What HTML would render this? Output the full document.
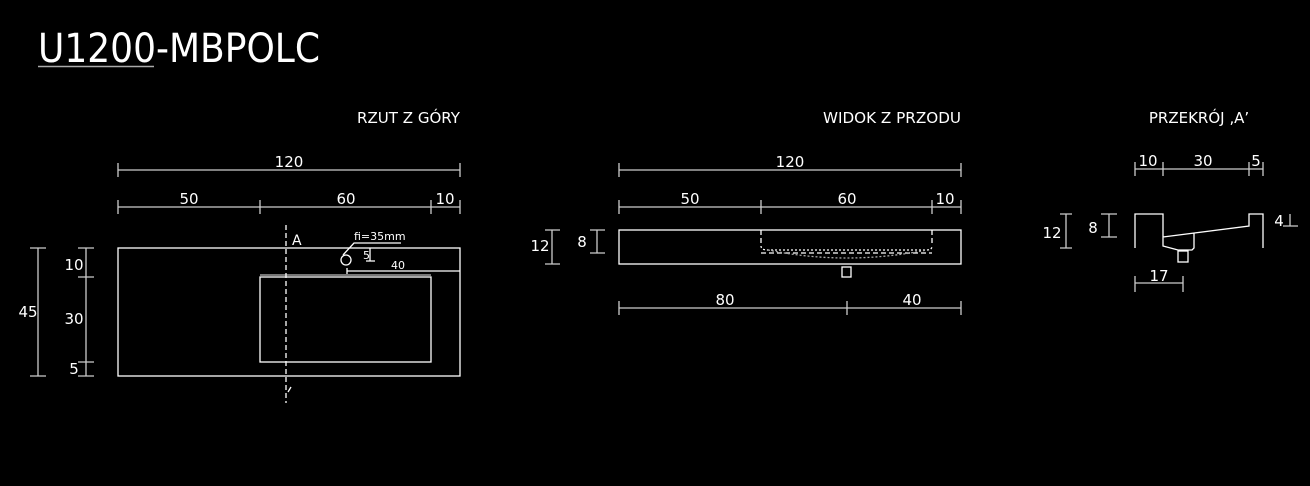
<!DOCTYPE html>
<html><head><meta charset="utf-8"><style>
html,body{margin:0;padding:0;background:#000;width:1310px;height:486px;overflow:hidden}
svg{display:block}
text{font-family:"DejaVu Sans","Liberation Sans",sans-serif;fill:#fff}
</style></head><body>
<svg width="1310" height="486" viewBox="0 0 1310 486" xmlns="http://www.w3.org/2000/svg">
<text x="38" y="62" font-size="40" textLength="282" lengthAdjust="spacingAndGlyphs">U1200-MBPOLC</text>
<line x1="38" y1="66.5" x2="154" y2="66.5" stroke="#aaa" stroke-width="1.5"/>
<g font-size="15">
<text x="460" y="123" text-anchor="end" textLength="103" lengthAdjust="spacingAndGlyphs">RZUT Z GÓRY</text>
<text x="961" y="123" text-anchor="end" textLength="138" lengthAdjust="spacingAndGlyphs">WIDOK Z PRZODU</text>
<text x="1199" y="123" text-anchor="middle">PRZEKRÓJ ‚A’</text>
</g>
<g stroke="#ccc" stroke-width="1.3" fill="none">
<path d="M118 170H460M118 163V177M460 163V177"/>
<path d="M118 207H460M118 200V214M260 200V214M431 200V214M460 200V214"/>
<path d="M38 248V376M30 248H46M30 376H46"/>
<path d="M86 248V376M78 248H94M78 277H94M78 362H94M78 376H94"/>
<path d="M619 170H961M619 163V177M961 163V177"/>
<path d="M619 207H961M619 200V214M761 200V214M932 200V214M961 200V214"/>
<path d="M552 230V264M545 230H560M545 264H560"/>
<path d="M597 230V253M590 230H605M590 253H605"/>
<path d="M619 308H961M619 301V315M847 301V315M961 301V315"/>
<path d="M1135 169H1263M1135 162V176M1163 162V176M1249 162V176M1263 162V176"/>
<path d="M1066 214V248M1060 214H1072M1060 248H1072"/>
<path d="M1109 214V237M1101 214H1117M1101 237H1117"/>
<path d="M1290 214V226M1283 226H1298"/>
<path d="M1135 283H1183M1135 276V292M1183 276V292"/>
</g>
<g stroke="#fff" stroke-width="1.3" fill="none">
<rect x="118" y="248" width="342" height="128"/>
<rect x="260" y="277" width="171" height="85"/>
<line x1="260" y1="275" x2="431" y2="275" stroke="#bbb"/>
<line x1="286" y1="225" x2="286" y2="403" stroke-dasharray="5,3"/>
<line x1="288" y1="392" x2="291" y2="387"/>
<circle cx="346" cy="260" r="5"/>
<path d="M343 255L354 243H401"/>
<path d="M370 248V261M366 261H375"/>
<path d="M347 271H460M347 268V274"/>
<rect x="619" y="230" width="342" height="34"/>
<path d="M761 230V246M932 230V246M761 253H932" stroke-dasharray="5,3"/>
<path d="M761 246Q761 250 768 250H927Q932 250 932 246" stroke-dasharray="2,2"/>
<path d="M768 250Q846 266 927 250" stroke-dasharray="2,2" stroke="#aaa"/>
<rect x="842" y="267" width="9" height="10"/>
<path d="M1135 248V214H1163V246L1178 250H1192L1194 248V233M1163 237L1249 226V214H1263V248"/>
<rect x="1178" y="251" width="10" height="11"/>
</g>
<g font-size="15" text-anchor="middle">
<text x="289" y="167">120</text>
<text x="189" y="204">50</text><text x="346" y="204">60</text><text x="445" y="204">10</text>
<text x="28" y="317">45</text>
<text x="74" y="270">10</text><text x="74" y="324">30</text><text x="74" y="374">5</text>
<text x="790" y="167">120</text>
<text x="690" y="204">50</text><text x="847" y="204">60</text><text x="945" y="204">10</text>
<text x="540" y="251">12</text><text x="582" y="247">8</text>
<text x="725" y="305">80</text><text x="912" y="305">40</text>
<text x="1148" y="166">10</text><text x="1203" y="166">30</text><text x="1256" y="166">5</text>
<text x="1052" y="238">12</text><text x="1093" y="233">8</text><text x="1279" y="226">4</text>
<text x="1159" y="281">17</text>
</g>
<text x="292" y="245" font-size="14">A</text>
<text x="354" y="240" font-size="11">fi=35mm</text>
<text x="363" y="259" font-size="11">5</text>
<text x="391" y="269" font-size="11" fill="#cde">40</text>
</svg>
</body></html>
